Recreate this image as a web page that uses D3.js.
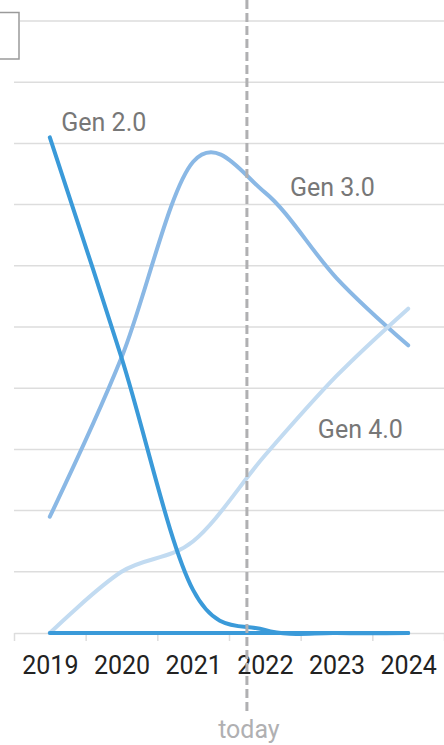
<!DOCTYPE html>
<html>
<head>
<meta charset="utf-8">
<script src="https://cdn.jsdelivr.net/npm/d3@7"></script>
<style>
  html, body { margin: 0; padding: 0; background: #fff; overflow: hidden; }
  svg { display: block; font-family: Roboto, "Noto Sans", sans-serif; }
</style>
</head>
<body>
<svg id="chart" width="444" height="745"></svg>
<script>
// Market share by generation (%)
const years = [2019, 2020, 2021, 2022, 2023, 2024];
const gen2 = [81, 45, 7, 0.5, 0, 0];
const gen3 = [19, 45, 77, 72, 58, 47];
const gen4 = [0, 10, 15, 29, 42, 53];
const baseline = [0, 0, 0, 0, 0, 0];
const seriesNames = ["Gen 2.0", "Gen 3.0", "Gen 4.0"];
const yTicks = [0, 10, 20, 30, 40, 50, 60, 70, 80, 90, 100];
const todayYear = 2021.75;

const W = 444, H = 745;
const FONT = 25;
const svg = d3.select("#chart");

const x = d3.scaleLinear().domain([2018.5, 2024.5]).range([14, 444]);
const y = d3.scaleLinear().domain([0, 100]).range([633, 21]);

// horizontal grid
svg.append("g")
  .selectAll("line")
  .data(yTicks.slice(1))
  .join("line")
  .attr("x1", (d, i) => i === yTicks.length - 2 ? 20 : 14)
  .attr("x2", W)
  .attr("y1", d => y(d)).attr("y2", d => y(d))
  .attr("stroke", "#dddddd").attr("stroke-width", 1.5);

// legend frame, partly off-canvas
svg.append("rect")
  .attr("x", -40).attr("y", 12.5)
  .attr("width", 59).attr("height", 46.5)
  .attr("fill", "#fff").attr("stroke", "#9a9a9a").attr("stroke-width", 1.5);

// x axis: ticks at year boundaries, labels at year centres
const bounds = d3.range(2018.5, 2025, 1);
const axisG = svg.append("g").attr("transform", `translate(0,${y(0)})`);
axisG.call(d3.axisBottom(x).tickValues(bounds).tickFormat("").tickSize(8).tickSizeOuter(0));
axisG.select(".domain").attr("stroke", "#dddddd").attr("stroke-width", 1.5);
axisG.selectAll(".tick line").attr("stroke", "#dddddd").attr("stroke-width", 1.5);

const labelG = svg.append("g").attr("transform", `translate(0,${y(0)})`);
labelG.call(d3.axisBottom(x).tickValues(years).tickFormat(d3.format("d")).tickSize(0));
labelG.select(".domain").remove();
labelG.selectAll(".tick text")
  .attr("y", 41).attr("dy", 0)
  .attr("font-size", FONT).attr("font-family", "Roboto, sans-serif")
  .attr("fill", "#222");

// lines
const line = d3.line()
  .x((d, i) => x(years[i]))
  .y(d => y(d))
  .curve(d3.curveCardinal.tension(0));

const colors = { g2: "#3a9ad9", g3: "#8ab8e5", g4: "#c2dbf1" };

const drawLine = (vals, color) => svg.append("path")
  .datum(vals)
  .attr("d", line)
  .attr("fill", "none")
  .attr("stroke", color)
  .attr("stroke-width", 4)
  .attr("stroke-linecap", "round")
  .attr("stroke-linejoin", "round");

drawLine(gen3, colors.g3);
drawLine(gen4, colors.g4);
drawLine(gen2, colors.g2);
drawLine(baseline, colors.g2);

// series labels
const labelPos = [
  { name: seriesNames[0], xv: 2019.16, yv: 82 },
  { name: seriesNames[1], xv: 2022.35, yv: 71.4 },
  { name: seriesNames[2], xv: 2022.74, yv: 31.9 }
];
svg.append("g")
  .selectAll("text")
  .data(labelPos)
  .join("text")
  .attr("x", d => x(d.xv))
  .attr("y", d => y(d.yv))
  .attr("font-size", FONT)
  .attr("fill", "#777")
  .text(d => d.name);

// today marker
svg.append("line")
  .attr("x1", x(todayYear)).attr("x2", x(todayYear))
  .attr("y1", 0).attr("y2", 711)
  .attr("stroke", "#b0b0b2").attr("stroke-width", 3)
  .attr("stroke-dasharray", "9,4");
svg.append("text")
  .attr("x", x(todayYear) + 2).attr("y", 738)
  .attr("text-anchor", "middle")
  .attr("font-size", FONT)
  .attr("fill", "#b0b0b2")
  .text("today");
</script>
</body>
</html>
